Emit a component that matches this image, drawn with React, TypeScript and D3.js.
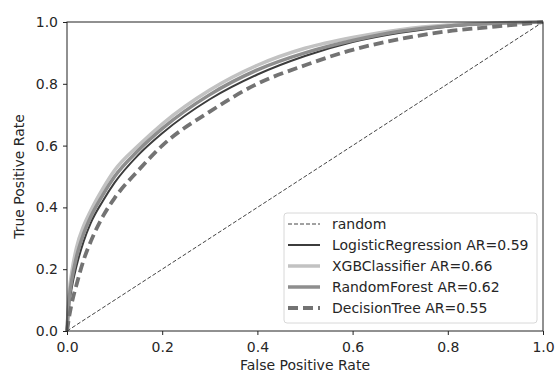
import * as d3 from 'd3';
import { useEffect, useRef } from 'react';

// false positive rate grid shared by all curves
const fpr = [0, 0.005, 0.01, 0.02, 0.035, 0.05, 0.075, 0.1, 0.15, 0.2, 0.3, 0.4, 0.5, 0.6, 0.7, 0.8, 0.9, 1.0];

const tprLogistic = [0, 0.09, 0.14, 0.21, 0.29, 0.35, 0.42, 0.48, 0.57, 0.64, 0.75, 0.83, 0.89, 0.935, 0.965, 0.985, 0.995, 1.0];
const tprXGB = [0, 0.13, 0.19, 0.27, 0.34, 0.39, 0.46, 0.52, 0.6, 0.67, 0.78, 0.86, 0.915, 0.95, 0.975, 0.99, 0.997, 1.0];
const tprForest = [0, 0.11, 0.165, 0.24, 0.315, 0.37, 0.44, 0.5, 0.585, 0.655, 0.765, 0.845, 0.9, 0.94, 0.97, 0.987, 0.996, 1.0];
const tprTree = [0, 0.05, 0.09, 0.15, 0.23, 0.29, 0.37, 0.43, 0.52, 0.6, 0.71, 0.8, 0.86, 0.91, 0.945, 0.97, 0.985, 1.0];

const randomLine = [0, 1];

const seriesNames = [
  'random',
  'LogisticRegression AR=0.59',
  'XGBClassifier AR=0.66',
  'RandomForest AR=0.62',
  'DecisionTree AR=0.55',
];

const ticks = [0, 0.2, 0.4, 0.6, 0.8, 1.0];

const styles = [
  { stroke: '#444', width: 1, dash: '4,2' },
  { stroke: '#3c3c3c', width: 2, dash: null },
  { stroke: '#c2c2c2', width: 3.5, dash: null },
  { stroke: '#8e8e8e', width: 3.5, dash: null },
  { stroke: '#737373', width: 3.8, dash: '10,5' },
];

const App = () => {
  const svgRef = useRef<SVGSVGElement>(null);

  useEffect(() => {
    const width = 556;
    const height = 371;
    const marginLeft = 67;
    const marginRight = 13;
    const marginTop = 22;
    const marginBottom = 40;
    const font = 'DejaVu Sans';
    const textColor = '#262626';

    const svg = d3.select(svgRef.current);
    svg.selectAll('*').remove();

    const x = d3.scaleLinear([0, 1], [marginLeft, width - marginRight]);
    const y = d3.scaleLinear([0, 1], [height - marginBottom, marginTop]);

    const curves = [
      randomLine.map((v) => [v, v]),
      fpr.map((f, i) => [f, tprLogistic[i]]),
      fpr.map((f, i) => [f, tprXGB[i]]),
      fpr.map((f, i) => [f, tprForest[i]]),
      fpr.map((f, i) => [f, tprTree[i]]),
    ];

    const line = d3
      .line<number[]>()
      .curve(d3.curveMonotoneX)
      .x((d) => x(d[0]))
      .y((d) => y(d[1]));

    const plot = svg.append('g');
    curves.forEach((pts, i) => {
      const s = styles[i];
      plot
        .append('path')
        .attr('fill', 'none')
        .attr('stroke', s.stroke)
        .attr('stroke-width', s.width)
        .attr('stroke-dasharray', s.dash)
        .attr('d', line(pts));
    });

    // frame
    svg
      .append('rect')
      .attr('x', x(0))
      .attr('y', y(1))
      .attr('width', x(1) - x(0))
      .attr('height', y(0) - y(1))
      .attr('fill', 'none')
      .attr('stroke', '#222')
      .attr('stroke-width', 1);

    // x axis
    svg
      .append('g')
      .attr('transform', `translate(0,${y(0)})`)
      .call(d3.axisBottom(x).tickValues(ticks).tickFormat(d3.format('.1f')).tickSize(4).tickSizeOuter(0))
      .call((g) => g.select('.domain').remove())
      .call((g) => g.selectAll('.tick line').attr('stroke', '#222'))
      .call((g) =>
        g.selectAll('.tick text')
          .attr('font-size', 14)
          .attr('font-family', font)
          .attr('fill', textColor)
          .attr('y', 11)
      );

    // y axis
    svg
      .append('g')
      .attr('transform', `translate(${x(0)},0)`)
      .call(d3.axisLeft(y).tickValues(ticks).tickFormat(d3.format('.1f')).tickSize(4).tickSizeOuter(0))
      .call((g) => g.select('.domain').remove())
      .call((g) => g.selectAll('.tick line').attr('stroke', '#222'))
      .call((g) =>
        g.selectAll('.tick text')
          .attr('font-size', 14)
          .attr('font-family', font)
          .attr('fill', textColor)
          .attr('x', -9)
      );

    // axis labels
    svg
      .append('text')
      .attr('x', (x(0) + x(1)) / 2)
      .attr('y', 370)
      .attr('text-anchor', 'middle')
      .attr('font-size', 14)
      .attr('font-family', font)
      .attr('fill', textColor)
      .text('False Positive Rate');

    svg
      .append('text')
      .attr('transform', `translate(24,${(y(0) + y(1)) / 2}) rotate(-90)`)
      .attr('text-anchor', 'middle')
      .attr('font-size', 14)
      .attr('font-family', font)
      .attr('fill', textColor)
      .text('True Positive Rate');

    // legend
    const legend = svg.append('g').attr('transform', 'translate(284,213)');
    legend
      .append('rect')
      .attr('width', 253)
      .attr('height', 110)
      .attr('rx', 3)
      .attr('fill', 'white')
      .attr('fill-opacity', 0.8)
      .attr('stroke', '#d8d8d8');

    seriesNames.forEach((name, i) => {
      const s = styles[i];
      const cy = 11 + i * 21;
      legend
        .append('line')
        .attr('x1', 4)
        .attr('x2', 36)
        .attr('y1', cy)
        .attr('y2', cy)
        .attr('stroke', s.stroke)
        .attr('stroke-width', s.width)
        .attr('stroke-dasharray', s.dash);
      legend
        .append('text')
        .attr('x', 48)
        .attr('y', cy)
        .attr('dy', '0.35em')
        .attr('font-size', 14)
        .attr('font-family', font)
        .attr('fill', textColor)
        .text(name);
    });
  }, []);

  return (
    <svg
      ref={svgRef}
      width={556}
      height={371}
      style={{ position: 'absolute', left: 0, top: 0, background: 'white' }}
    />
  );
};

export default App;
